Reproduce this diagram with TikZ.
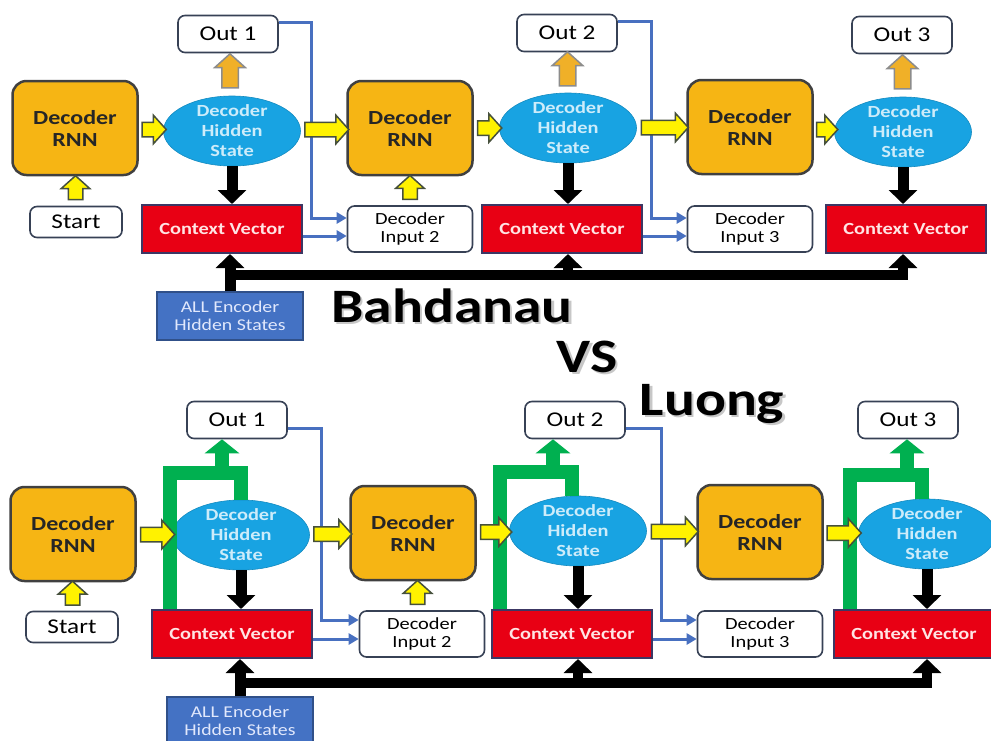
\documentclass[tikz,border=0pt]{standalone}
\usepackage{fontspec}
\setmainfont{Carlito}[FakeStretch=1.2]
\usetikzlibrary{shapes.geometric,shapes.arrows,arrows.meta}

\definecolor{rnnorange}{RGB}{246,181,20}
\definecolor{hidblue}{RGB}{24,163,226}
\definecolor{hidtext}{RGB}{205,236,250}
\definecolor{cvred}{RGB}{232,0,20}
\definecolor{cvtext}{RGB}{255,228,228}
\definecolor{cvedge}{RGB}{60,55,100}
\definecolor{encblue}{RGB}{68,114,196}
\definecolor{enctext}{RGB}{225,232,252}
\definecolor{linkblue}{RGB}{72,112,192}
\definecolor{boxedge}{RGB}{55,65,85}
\definecolor{forkgreen}{RGB}{0,176,80}
\definecolor{outorange}{RGB}{240,176,40}
\definecolor{yedge}{RGB}{70,80,60}

\tikzset{
  rnn/.style={draw=black!75, line width=2.5pt, fill=rnnorange, rounded corners=14pt,
    minimum width=125pt, minimum height=94pt, align=center, text=black!85,
    font=\bfseries\fontsize{20}{22}\selectfont},
  hid/.style={ellipse, draw=hidblue!85!black, line width=0.6pt, fill=hidblue,
    minimum width=137pt, minimum height=70pt, inner sep=-4pt, align=center,
    text=hidtext, font=\bfseries\fontsize{17}{20}\selectfont},
  outbox/.style={draw=boxedge, line width=1.6pt, fill=white, rounded corners=7pt,
    minimum width=100pt, minimum height=37pt, font=\fontsize{21}{24}\selectfont},
  startbox/.style={outbox, minimum width=92pt, minimum height=31pt},
  inbox/.style={outbox, minimum width=125pt, minimum height=46pt, align=center,
    font=\fontsize{17}{18}\selectfont},
  ctx/.style={draw=cvedge, line width=2pt, fill=cvred, minimum width=160pt,
    minimum height=48pt, text=cvtext, font=\bfseries\fontsize{17}{20}\selectfont},
  enc/.style={draw=encblue!70!black, line width=1.5pt, fill=encblue,
    minimum width=146pt, minimum height=48pt, align=center, text=enctext,
    font=\fontsize{16.5}{18.5}\selectfont},
  titletext/.style={anchor=base, font=\bfseries\fontsize{48}{50}\selectfont},
  yarrow/.style={single arrow, draw=yedge, line width=1.5pt, fill=yellow,
    inner xsep=0pt, inner ysep=6.5pt, single arrow head extend=7pt,
    single arrow tip angle=96, single arrow head indent=0pt},
  oarrow/.style={yarrow, draw=black!45, fill=outorange, inner ysep=7.5pt},
  blackarrow/.style={line width=11pt, -{Triangle[width=28pt,length=14pt]}},
  busarrow/.style={blackarrow, line width=10pt},
  bluelink/.style={draw=linkblue, line width=3pt, -{Triangle[width=11pt,length=10pt]}},
  greenline/.style={draw=forkgreen, line width=14pt},
  greenarrow/.style={greenline, -{Triangle[width=34pt,length=14pt]}}
}

\begin{document}
\begin{tikzpicture}[x=1pt,y=-1pt]
\useasboundingbox (0,0) rectangle (991,740);

%Bahdanau
\node[rnn] (rnnA) at (75,128) {Decoder\\RNN};
\node[hid] (hidA) at (232,131) {Decoder\\Hidden\\State};
\node[outbox] (outA) at (228,34) {Out 1};
\node[startbox] (startA) at (76,222) {Start};
\node[ctx] (cvA) at (222,229) {Context Vector};
\node[enc] (encA) at (230,316) {ALL Encoder\\Hidden States};
\node[rnn] (rnnB) at (410,128) {Decoder\\RNN};
\node[hid] (hidB) at (568,128) {Decoder\\Hidden\\State};
\node[outbox] (outB) at (567,33) {Out 2};
\node[inbox] (inB) at (410,229) {Decoder\\Input 2};
\node[ctx] (cvB) at (562,229) {Context Vector};
\node[rnn] (rnnC) at (750,127) {Decoder\\RNN};
\node[hid] (hidC) at (903,132) {Decoder\\Hidden\\State};
\node[outbox] (outC) at (902,35) {Out 3};
\node[inbox] (inC) at (750,229) {Decoder\\Input 3};
\node[ctx] (cvC) at (906,229) {Context Vector};

%titles
\node[titletext, text=black!22] at (454.5,324.5) {Bahdanau};
\node[titletext] (bahd) at (452,322) {Bahdanau};
\node[titletext, text=black!22] at (589.5,374.5) {VS};
\node[titletext] (vs) at (587,372) {VS};
\node[titletext, text=black!22] at (714.5,417.5) {Luong};
\node[titletext] (luong) at (712,415) {Luong};

%Luong
\node[rnn] (rnnD) at (73,534) {Decoder\\RNN};
\node[hid] (hidD) at (241,535) {Decoder\\Hidden\\State};
\node[outbox] (outD) at (237,420) {Out 1};
\node[startbox] (startD) at (72,627) {Start};
\node[ctx] (cvD) at (232,634) {Context Vector};
\node[enc] (encD) at (240,721) {ALL Encoder\\Hidden States};
\node[rnn] (rnnE) at (413,533) {Decoder\\RNN};
\node[hid] (hidE) at (578,531) {Decoder\\Hidden\\State};
\node[outbox] (outE) at (575,420) {Out 2};
\node[inbox] (inE) at (422,634) {Decoder\\Input 2};
\node[ctx] (cvE) at (572,634) {Context Vector};
\node[rnn] (rnnF) at (760,532) {Decoder\\RNN};
\node[hid] (hidF) at (927,534) {Decoder\\Hidden\\State};
\node[outbox] (outF) at (908,420) {Out 3};
\node[inbox] (inF) at (760,634) {Decoder\\Input 3};
\node[ctx] (cvF) at (914,634) {Context Vector};

%blue links
\draw[bluelink] ([yshift=12pt]outA.east) -| ([xshift=-35pt,yshift=11pt]inB.west) -- ([yshift=11pt]inB.west);
\draw[bluelink] ([yshift=-7pt]cvA.east) -- ([yshift=-7pt]inB.west);
\draw[bluelink] ([yshift=12pt]outB.east) -| ([xshift=-35pt,yshift=11pt]inC.west) -- ([yshift=11pt]inC.west);
\draw[bluelink] ([yshift=-7pt]cvB.east) -- ([yshift=-7pt]inC.west);
\draw[bluelink] ([yshift=-8pt]outD.east) -| ([xshift=-37pt,yshift=14pt]inE.west) -- ([yshift=14pt]inE.west);
\draw[bluelink] ([yshift=-5pt]cvD.east) -- ([yshift=-5pt]inE.west);
\draw[bluelink] ([yshift=-8pt]outE.east) -| ([xshift=-35pt,yshift=14pt]inF.west) -- ([yshift=14pt]inF.west);
\draw[bluelink] ([yshift=-5pt]cvE.east) -- ([yshift=-5pt]inF.west);

%hidden state to context
\draw[blackarrow] (hidA.south) -- (hidA.south |- cvA.north);
\draw[blackarrow] (hidB.south) -- (hidB.south |- cvB.north);
\draw[blackarrow] (hidC.south) -- (hidC.south |- cvC.north);
\draw[blackarrow] (hidD.south) -- (hidD.south |- cvD.north);
\draw[blackarrow] (hidE.south) -- (hidE.south |- cvE.north);
\draw[blackarrow] (hidF.south) -- (hidF.south |- cvF.north);

%encoder states bus
\coordinate (busA) at (230,275);
\draw[blackarrow] (encA.north) -- (encA.north |- cvA.south);
\draw[busarrow] (busA) -| (hidC.south |- cvC.south);
\draw[busarrow] (busA -| hidB.south) -- (hidB.south |- cvB.south);
\coordinate (busD) at (240,683);
\draw[blackarrow] (encD.north) -- (encD.north |- cvD.south);
\draw[busarrow] (busD) -| (hidF.south |- cvF.south);
\draw[busarrow] (busD -| hidE.south) -- (hidE.south |- cvE.south);

%green forks
\draw[greenline] ([xshift=-62pt]cvD.north) |- ([yshift=27pt]hidD.north) -- (hidD.north);
\coordinate (gD) at ([xshift=-19pt,yshift=27pt]hidD.north);
\draw[greenarrow] (gD) -- (gD |- outD.south);
\draw[greenline] ([xshift=-72pt]cvE.north) |- ([xshift=-6pt,yshift=24pt]hidE.north) -- ([xshift=-6pt]hidE.north);
\coordinate (gE) at ([xshift=-25pt,yshift=24pt]hidE.north);
\draw[greenarrow] (gE) -- (gE |- outE.south);
\draw[greenline] ([xshift=-64pt]cvF.north) |- ([xshift=-5pt,yshift=24pt]hidF.north) -- ([xshift=-5pt]hidF.north);
\coordinate (gF) at ([xshift=-20pt,yshift=24pt]hidF.north);
\draw[greenarrow] (gF) -- (gF |- outF.south);

%fat arrows
\path (rnnA.east) -- node[yarrow, minimum height=24pt] {} (hidA.west);
\path (hidA.east) -- node[yarrow, minimum height=44pt] {} (rnnB.west);
\path (rnnB.east) -- node[yarrow, minimum height=24pt] {} (hidB.west);
\path (hidB.east) -- node[yarrow, minimum height=47pt] {} (rnnC.west);
\path (rnnC.east) -- node[yarrow, minimum height=21pt] {} (hidC.west);
\path (startA.north) -- node[yarrow, rotate=90, minimum height=24pt] {} (rnnA.south);
\path (inB.north) -- node[yarrow, rotate=90, minimum height=24pt] {} (rnnB.south);
\path (hidA.north) -- node[oarrow, rotate=90, minimum height=34pt] {} (outA.south);
\path (hidB.north) -- node[oarrow, rotate=90, minimum height=34pt] {} (outB.south);
\path (hidC.north) -- node[oarrow, rotate=90, minimum height=34pt] {} (outC.south);

\path (rnnD.east) -- node[yarrow, minimum height=34pt] {} (hidD.west);
\path (hidD.east) -- node[yarrow, minimum height=38pt] {} (rnnE.west);
\path (rnnE.east) -- node[yarrow, minimum height=31pt] {} (hidE.west);
\path (hidE.east) -- node[yarrow, minimum height=47pt] {} (rnnF.west);
\path (rnnF.east) -- node[yarrow, minimum height=34pt] {} (hidF.west);
\path (startD.north) -- node[yarrow, rotate=90, minimum height=24pt] {} (rnnD.south);
\path (inE.north) -- node[yarrow, rotate=90, minimum height=24pt] {} (rnnE.south);
\end{tikzpicture}
\end{document}
